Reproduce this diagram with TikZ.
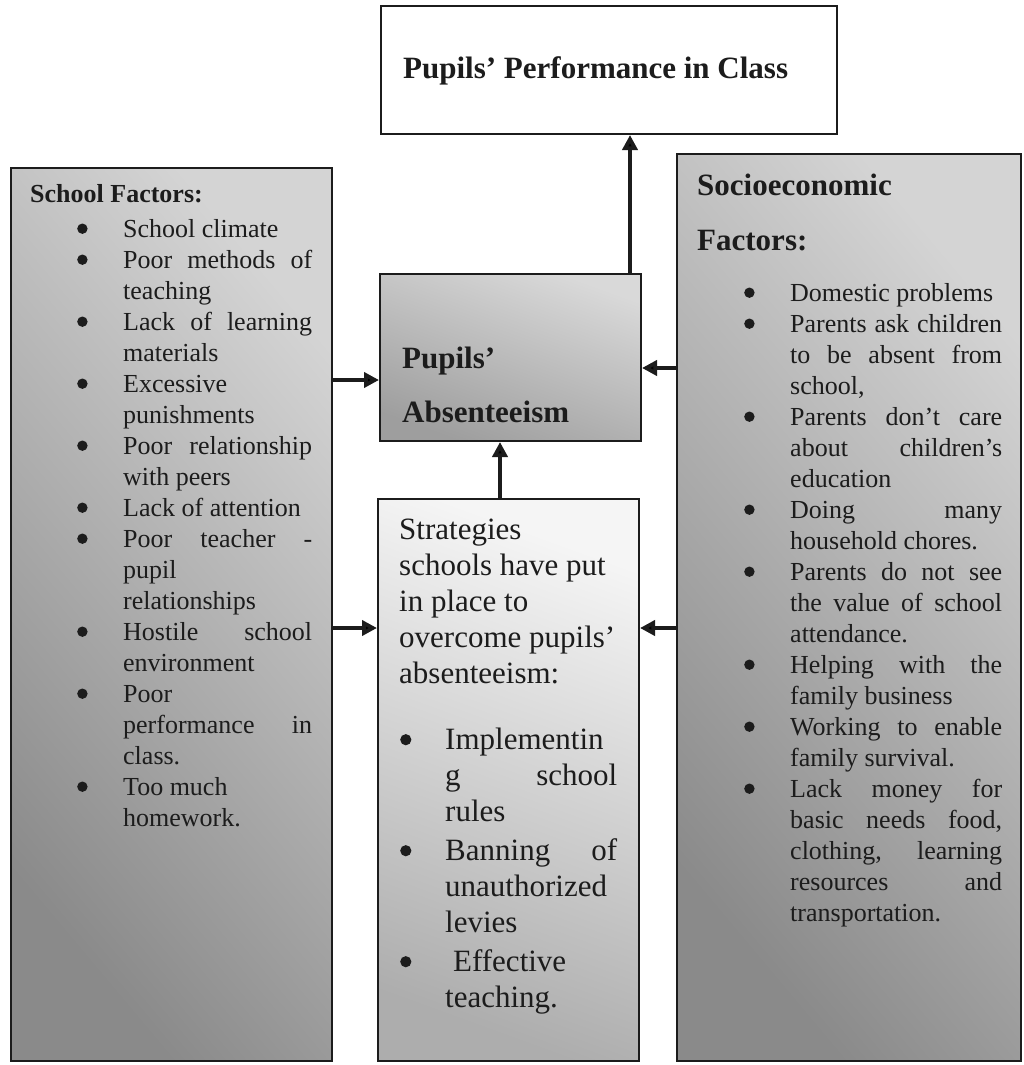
\documentclass[tikz,border=0pt]{standalone}
\usepackage{fontspec}
\setmainfont{Liberation Serif}
\usetikzlibrary{arrows.meta}
\definecolor{ink}{HTML}{1C1C1C}
\newcommand\bulmark[2]{\tikz[baseline=0pt]\fill[ink] (0pt,#1) circle[radius=#2];}
\newcommand\bitem{\par\noindent\llap{\makebox[46pt][l]{\bulmark{8.5pt}{5.2pt}}}}
\newcommand\bitemb{\par\noindent\llap{\makebox[45pt][l]{\bulmark{9.5pt}{5.6pt}}}}
\newcommand\listsetup{\tolerance=9999\hyphenpenalty=10000\exhyphenpenalty=10000\parindent=0pt\parskip=0pt\rightskip=0pt}
\begin{document}
\begin{tikzpicture}[x=1pt,y=-1pt,
  box/.style={draw=ink, line width=2pt, inner sep=0pt, anchor=north west},
  arr/.style={draw=ink, line width=4.5pt, -{Triangle[length=15pt,width=15pt]}},
  hd/.style={inner sep=0pt, text=ink, anchor=base west},
  lst/.style={inner sep=0pt, text=ink, anchor=north west, align=justify}]
\useasboundingbox (0,0) rectangle (1024,1065);
\fill[white] (0,0) rectangle (1024,1065);
% boxes
\node[box, fill=white, minimum width=456pt, minimum height=128pt] (perf) at (380,5) {};
\node[box, top color=black!17, bottom color=black!46, shading angle=-50, minimum width=321pt, minimum height=893pt] (school) at (10,167) {};
\node[box, top color=black!17, bottom color=black!46, shading angle=-50, minimum width=344pt, minimum height=907pt] (socio) at (676,153) {};
\node[box, top color=black!15, bottom color=black!38, shading angle=-20, minimum width=261pt, minimum height=167pt] (absent) at (379,273) {};
\node[box, top color=black!4, bottom color=black!32, shading angle=-20, minimum width=261pt, minimum height=562pt] (strat) at (377,498) {};
% headings
\node[hd, font=\fontsize{31}{36}\selectfont\bfseries] (perft) at (403,78) {Pupils’ Performance in Class};
\node[hd, font=\fontsize{26}{31}\selectfont\bfseries] (schoolh) at (30,202) {School Factors:};
\node[hd, font=\fontsize{31}{36}\selectfont\bfseries] (socioh1) at (697,195) {Socioeconomic};
\node[hd, font=\fontsize{31}{36}\selectfont\bfseries] (socioh2) at (697,250) {Factors:};
\node[hd, font=\fontsize{31}{36}\selectfont\bfseries] (abs1) at (402,368) {Pupils’};
\node[hd, font=\fontsize{31}{36}\selectfont\bfseries] (abs2) at (402,422) {Absenteeism};
% school factors list
\node[lst, text width=189pt] (schoollist) at (123,206) {\fontsize{26}{31}\selectfont\listsetup
\bitem\rule{0pt}{24pt}School climate
\bitem Poor methods of\linebreak teaching
\bitem Lack of learning\linebreak materials
\bitem Excessive\newline punishments
\bitem Poor relationship\linebreak with peers
\bitem Lack of attention
\bitem Poor teacher -\linebreak pupil\newline relationships
\bitem Hostile school\linebreak environment
\bitem Poor\newline performance in\linebreak class.
\bitem Too much\newline homework.\par};
% socioeconomic list
\node[lst, text width=212pt] (sociolist) at (790,270) {\fontsize{26}{31}\selectfont\listsetup
\bitem\rule{0pt}{24pt}Domestic problems
\bitem Parents ask children\linebreak to be absent from\linebreak school,
\bitem Parents don’t care\linebreak about children’s\linebreak education
\bitem Doing many\linebreak household chores.
\bitem Parents do not see\linebreak the value of school\linebreak attendance.
\bitem Helping with the\linebreak family business
\bitem Working to enable\linebreak family survival.
\bitem Lack money for\linebreak basic needs food,\linebreak clothing, learning\linebreak resources and\linebreak transportation.\par};
% strategies
\node[lst, text width=236pt] (strath) at (399,510) {\fontsize{31}{36}\selectfont\listsetup
\rule{0pt}{29pt}Strategies\newline schools have put\newline in place to\newline overcome pupils’\newline absenteeism:\par};
\node[lst, text width=172pt] (stratlist) at (445,710) {\fontsize{31}{36}\selectfont\listsetup\parskip=3pt
\bitemb\rule{0pt}{29pt}Implementin\newline g school\linebreak rules
\bitemb Banning of\linebreak unauthorized\newline levies
\bitemb\hspace*{8pt}Effective\newline teaching.\par};
% connectors
\coordinate (xa) at (630,0);
\coordinate (xb) at (500,0);
\coordinate (ya) at (0,380);
\coordinate (yb) at (0,368);
\coordinate (yc) at (0,628);
\draw[arr] (absent.north -| xa) -- (perf.south -| xa);
\draw[arr] (strat.north -| xb) -- (absent.south -| xb);
\draw[arr] (school.east |- ya) -- (absent.west |- ya);
\draw[arr] (socio.west |- yb) -- (absent.east |- yb);
\draw[arr] (school.east |- yc) -- (strat.west |- yc);
\draw[arr] (socio.west |- yc) -- (strat.east |- yc);
\end{tikzpicture}
\end{document}
